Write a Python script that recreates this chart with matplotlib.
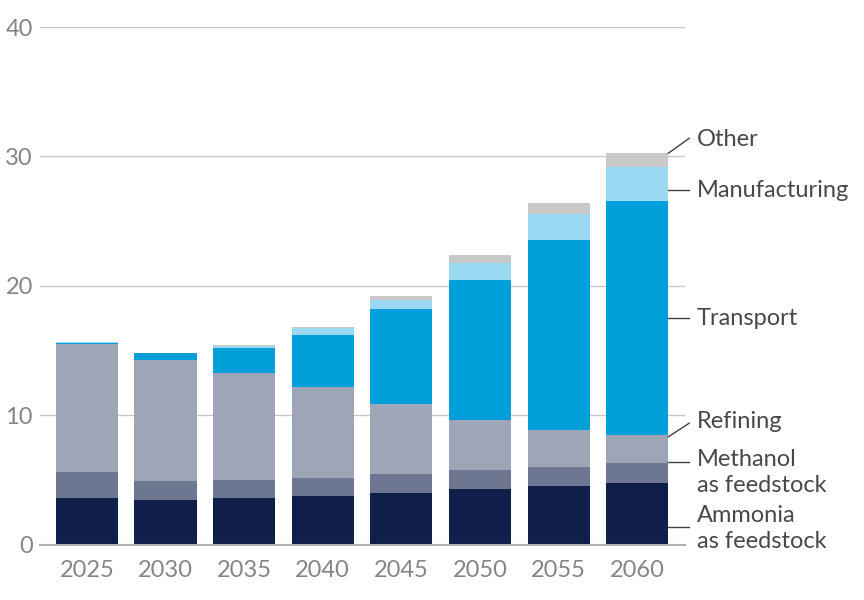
import matplotlib
matplotlib.use("Agg")
import matplotlib.pyplot as plt
import numpy as np

plt.rcParams['font.family'] = ['Lato', 'DejaVu Sans']

# values (stacked, bottom to top)
years = ['2025', '2030', '2035', '2040', '2045', '2050', '2055', '2060']
ammonia = [3.65, 3.5, 3.6, 3.8, 4.05, 4.3, 4.55, 4.75]
methanol = [2.0, 1.45, 1.4, 1.4, 1.45, 1.5, 1.5, 1.6]
refining = [9.9, 9.3, 8.3, 7.0, 5.4, 3.85, 2.85, 2.15]
transport = [0.05, 0.55, 1.9, 4.05, 7.3, 10.8, 14.65, 18.1]
manufacturing = [0.05, 0.05, 0.2, 0.5, 0.7, 1.3, 2.0, 2.6]
other = [0.0, 0.0, 0.05, 0.05, 0.35, 0.65, 0.85, 1.1]

series = [
    (ammonia, '#101f4a'),
    (methanol, '#6d7791'),
    (refining, '#9ea5b6'),
    (transport, '#009fd9'),
    (manufacturing, '#9bd8f1'),
    (other, '#c8c8c8'),
]

# right-hand labels: (text, text y, connector start y, connector end y)
labels = [
    ('Other', 31.35, 30.25, 31.4),
    ('Manufacturing', 27.4, 27.4, 27.4),
    ('Transport', 17.5, 17.5, 17.5),
    ('Refining', 9.5, 8.35, 9.4),
    ('Methanol\nas feedstock', 5.6, 6.4, 6.4),
    ('Ammonia\nas feedstock', 1.3, 1.35, 1.35),
]

fig = plt.figure(figsize=(8.64, 6), dpi=100)
ax = fig.add_axes([0.046, 0.0917, 0.747, 0.8633])

x = np.arange(len(years))
bottom = np.zeros(len(years))
for vals, color in series:
    ax.bar(x, vals, bottom=bottom, width=0.79, color=color, zorder=3)
    bottom += np.array(vals)

ax.set_xlim(-0.6, 7.61)
ax.set_ylim(0, 40)
ax.set_yticks([0, 10, 20, 30, 40])
ax.set_xticks(x)
ax.set_xticklabels(years)
ax.yaxis.grid(True, color='#c8c8c8', linewidth=1, zorder=0)
ax.tick_params(axis='both', length=0, labelsize=17, labelcolor='#858585')
ax.tick_params(axis='x', pad=11)
ax.tick_params(axis='y', pad=5)
for s in ['top', 'right', 'left']:
    ax.spines[s].set_visible(False)
ax.spines['bottom'].set_color('#b0b0b0')
ax.spines['bottom'].set_linewidth(1.5)
ax.spines['bottom'].set_zorder(4)

x0 = x[-1] + 0.395
x1 = x[-1] + 0.66
for text, ty, y0, y1 in labels:
    ax.plot([x0, x1], [y0, y1], color='#404040', linewidth=1,
            clip_on=False, zorder=5)
    ax.text(x1 + 0.1, ty, text, ha='left', va='center', fontsize=17,
            color='#484848', linespacing=1.3, clip_on=False)

fig.savefig('out.png', dpi=100)
